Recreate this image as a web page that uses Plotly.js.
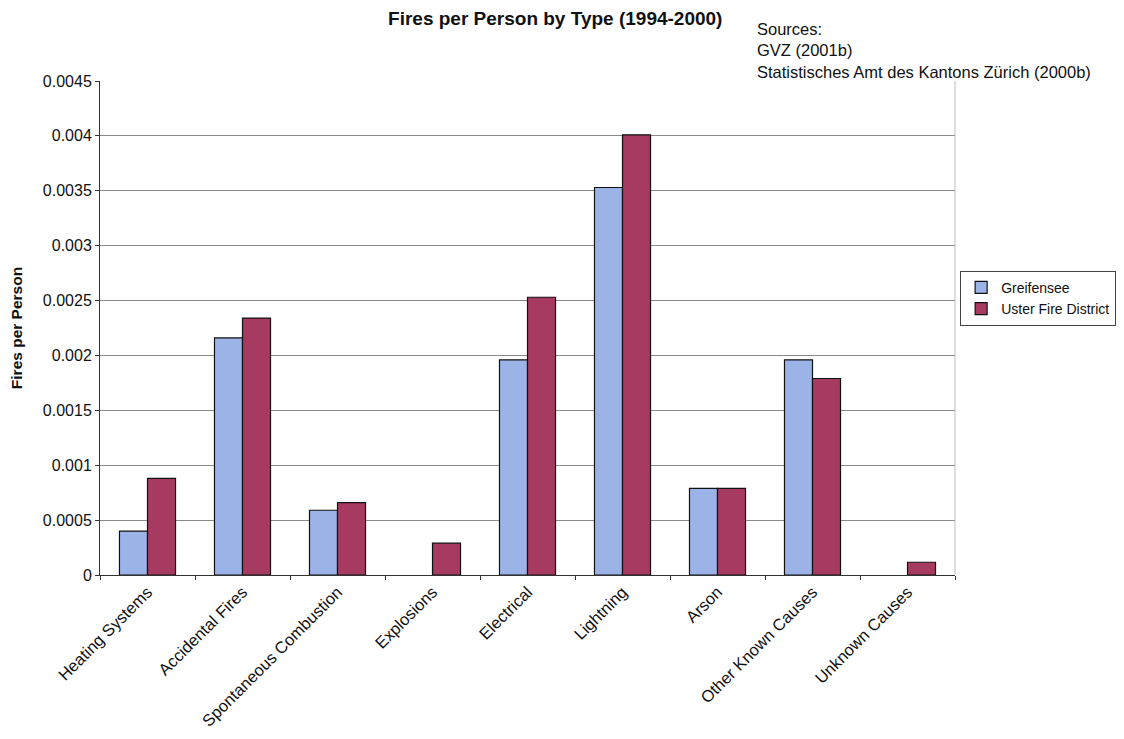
<!DOCTYPE html>
<html><head><meta charset="utf-8">
<script src="https://cdn.plot.ly/plotly-3.0.1.min.js"></script>
<style>html,body{margin:0;padding:0;background:#fff;}#chart{width:1124px;height:739px;}</style>
</head><body><div id="chart"></div>
<script>
const categories = ["Heating Systems","Accidental Fires","Spontaneous Combustion","Explosions","Electrical","Lightning","Arson","Other Known Causes","Unknown Causes"];
const greifensee = [0.00040,0.00216,0.00059,null,0.00196,0.00353,0.00079,0.00196,null];
const uster = [0.00088,0.00234,0.00066,0.00029,0.00253,0.00401,0.00079,0.00179,0.000116];
const yTicks = [0,0.0005,0.001,0.0015,0.002,0.0025,0.003,0.0035,0.004,0.0045];
const yTickText = ["0","0.0005","0.001","0.0015","0.002","0.0025","0.003","0.0035","0.004","0.0045"];

const fam = "Arial, 'Liberation Sans', sans-serif";
const data = [
  {type:"bar", name:"Greifensee", x:categories, y:greifensee,
   marker:{color:"#9cb3e8", line:{color:"#111", width:1.2}}},
  {type:"bar", name:"Uster Fire District", x:categories, y:uster,
   marker:{color:"#a63a60", line:{color:"#111", width:1.2}}}
];
const layout = {
  width:1124, height:739,
  margin:{l:100, r:169, t:81, b:164, autoexpand:false},
  paper_bgcolor:"#fff", plot_bgcolor:"#fff",
  font:{family:fam, size:16, color:"#111"},
  title:{text:"<b>Fires per Person by Type (1994-2000)</b>", x:0.494, xanchor:"center", y:0.975, yanchor:"middle", font:{family:fam, size:19, color:"#111"}},
  barmode:"group", bargap:0.41, bargroupgap:0,
  showlegend:true,
  legend:{x:1.006, xanchor:"left", y:0.56, yanchor:"middle", bordercolor:"#444", borderwidth:1, bgcolor:"#fff",
          font:{family:fam, size:14, color:"#111"}, tracegroupgap:0, itemwidth:30},
  xaxis:{type:"category", tickangle:-45, tickson:"boundaries", ticks:"outside", ticklen:4, tickcolor:"#333",
         showline:true, linecolor:"#333", linewidth:1, showgrid:false,
         tickfont:{family:fam, size:16.5, color:"#111"}},
  yaxis:{range:[0,0.0045], tickvals:yTicks, ticktext:yTickText, ticks:"outside", ticklen:4, tickcolor:"#333",
         showline:true, linecolor:"#333", linewidth:1, showgrid:true, gridcolor:"#8a8a8a", gridwidth:1,
         zeroline:false, tickfont:{family:fam, size:16, color:"#111"},
         title:{text:"<b>Fires per Person</b>", standoff:16, font:{family:fam, size:15.5, color:"#111"}}},
  shapes:[{type:"line", xref:"paper", yref:"paper", x0:1, x1:1, y0:0, y1:1, line:{color:"#bbb", width:1}}],
  annotations:[{text:"Sources:<br>GVZ (2001b)<br>Statistisches Amt des Kantons Zürich (2000b)", xref:"paper", yref:"paper",
    x:0.766, y:1.128, xanchor:"left", yanchor:"top", align:"left", showarrow:false,
    font:{family:fam, size:16.5, color:"#111"}}]
};
Plotly.newPlot("chart", data, layout, {displayModeBar:false, staticPlot:true});
</script></body></html>
